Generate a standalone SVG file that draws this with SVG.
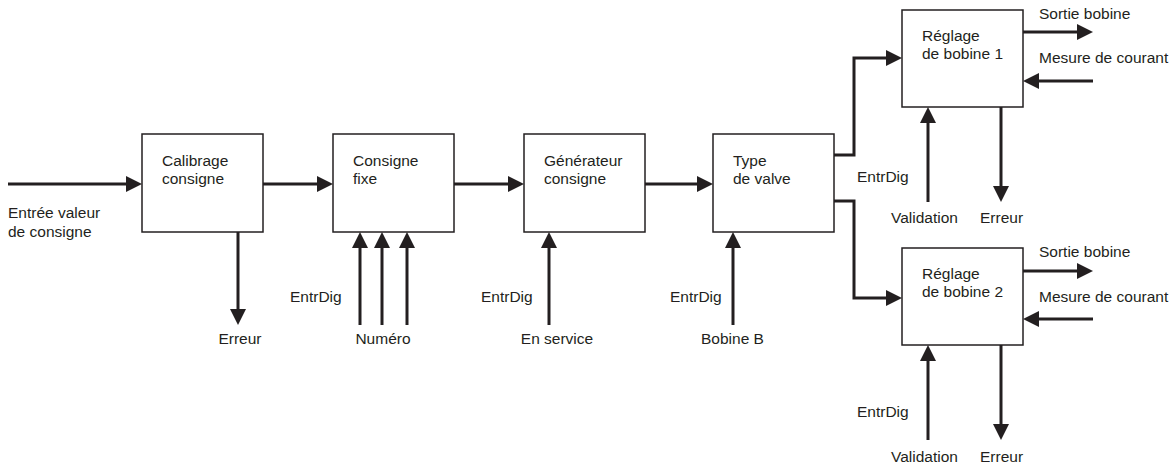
<svg xmlns="http://www.w3.org/2000/svg" width="1173" height="466" viewBox="0 0 1173 466">
<style>
.box{fill:#fff;stroke:#231f20;stroke-width:1.5}
.t{font-family:"Liberation Sans",Arial,sans-serif;font-size:15.5px;fill:#231f20}
.m{text-anchor:middle}
.c{fill:none;stroke:#231f20;stroke-width:3}
</style>
<defs>
<marker id="ah" markerUnits="userSpaceOnUse" markerWidth="18" markerHeight="18" refX="2" refY="8" orient="auto">
<path d="M0,0 L16,8 L0,16 z" fill="#231f20"/>
</marker>
</defs>
<rect width="1173" height="466" fill="#fff"/>
<g id="connectors">
<path class="c" marker-end="url(#ah)" d="M8,184 H128"/>
<path class="c" marker-end="url(#ah)" d="M263,184 H319"/>
<path class="c" marker-end="url(#ah)" d="M454,184 H510"/>
<path class="c" marker-end="url(#ah)" d="M645,184 H699"/>
<path class="c" marker-end="url(#ah)" d="M238,232 V311"/>
<path class="c" marker-end="url(#ah)" d="M360,325 V246"/>
<path class="c" marker-end="url(#ah)" d="M382,325 V246"/>
<path class="c" marker-end="url(#ah)" d="M407,325 V246"/>
<path class="c" marker-end="url(#ah)" d="M549,325 V246"/>
<path class="c" marker-end="url(#ah)" d="M733,325 V246"/>
<path class="c" marker-end="url(#ah)" d="M834,155 H854 V58 H888"/>
<path class="c" marker-end="url(#ah)" d="M834,201 H854 V298 H888"/>
<path class="c" marker-end="url(#ah)" d="M1023,32 H1079"/>
<path class="c" marker-end="url(#ah)" d="M1093,81 H1037"/>
<path class="c" marker-end="url(#ah)" d="M928,202 V121"/>
<path class="c" marker-end="url(#ah)" d="M1001,107 V188"/>
<path class="c" marker-end="url(#ah)" d="M1023,271 H1079"/>
<path class="c" marker-end="url(#ah)" d="M1093,319 H1037"/>
<path class="c" marker-end="url(#ah)" d="M928,440 V359"/>
<path class="c" marker-end="url(#ah)" d="M1001,345 V426"/>
</g>
<g id="calibrage">
<rect class="box" x="142" y="134" width="121" height="98"/>
<text class="t" x="162" y="166">Calibrage</text>
<text class="t" x="162" y="184">consigne</text>
</g>
<g id="consigne-fixe">
<rect class="box" x="333" y="134" width="121" height="98"/>
<text class="t" x="353" y="166">Consigne</text>
<text class="t" x="353" y="184">fixe</text>
</g>
<g id="generateur">
<rect class="box" x="524" y="134" width="121" height="98"/>
<text class="t" x="544" y="166">Générateur</text>
<text class="t" x="544" y="184">consigne</text>
</g>
<g id="type-valve">
<rect class="box" x="713" y="134" width="121" height="98"/>
<text class="t" x="733" y="166">Type</text>
<text class="t" x="733" y="184">de valve</text>
</g>
<g id="reglage1">
<rect class="box" x="902" y="10" width="121" height="97"/>
<text class="t" x="922" y="41">Réglage</text>
<text class="t" x="922" y="59">de bobine 1</text>
</g>
<g id="reglage2">
<rect class="box" x="902" y="248" width="121" height="97"/>
<text class="t" x="922" y="279">Réglage</text>
<text class="t" x="922" y="297">de bobine 2</text>
</g>
<g id="labels">
<text class="t" x="8" y="218">Entrée valeur</text>
<text class="t" x="8" y="237">de consigne</text>
<text class="t m" x="240" y="344">Erreur</text>
<text class="t" x="290" y="302">EntrDig</text>
<text class="t m" x="383" y="344">Numéro</text>
<text class="t" x="481" y="302">EntrDig</text>
<text class="t m" x="557" y="344">En service</text>
<text class="t" x="670" y="302">EntrDig</text>
<text class="t" x="701" y="344">Bobine B</text>
<text class="t" x="1039" y="19">Sortie bobine</text>
<text class="t" x="1039" y="63">Mesure de courant</text>
<text class="t" x="857" y="182">EntrDig</text>
<text class="t" x="891" y="223">Validation</text>
<text class="t" x="980" y="223">Erreur</text>
<text class="t" x="1039" y="257">Sortie bobine</text>
<text class="t" x="1039" y="302">Mesure de courant</text>
<text class="t" x="857" y="417">EntrDig</text>
<text class="t" x="891" y="462">Validation</text>
<text class="t" x="980" y="462">Erreur</text>
</g>
</svg>
